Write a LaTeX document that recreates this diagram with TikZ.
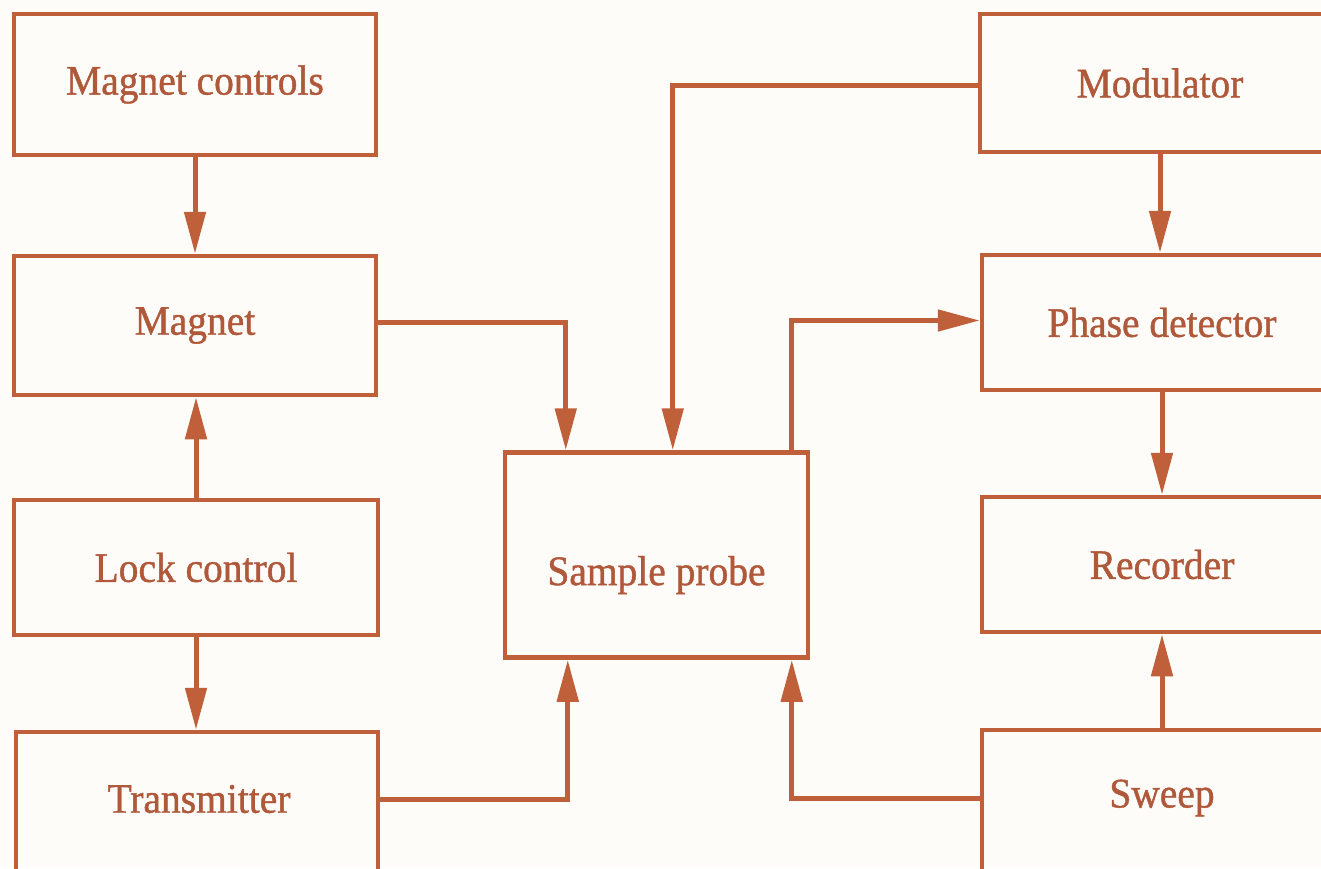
\documentclass[tikz,border=0pt]{standalone}
\usepackage{fontspec}
\setmainfont[FakeBold=1,FakeStretch=0.94]{Liberation Serif}
\usetikzlibrary{arrows.meta}
\definecolor{ink}{HTML}{C0603A}
\definecolor{txt}{HTML}{B0583A}
\definecolor{paper}{HTML}{FEFCF9}
\begin{document}
\begin{tikzpicture}[x=1pt,y=-1pt,
  box/.style={draw=ink,line width=4.5pt,minimum width=#1,inner sep=0pt,
    text=txt,font=\fontsize{42}{48}\selectfont},
  box/.default=362pt,
  lbl/.style={text=txt,font=\fontsize{42}{48}\selectfont,inner sep=0pt},
  arr/.style={draw=ink,line width=5pt,-{Triangle[length=42pt,width=21pt]}}]
\useasboundingbox[fill=paper] (0,0) rectangle (1321,868);
\begin{scope}
\clip (0,0) rectangle (1321,868);
% left column
\node[box,minimum height=141pt] (mc)   at (195,84.5)  {Magnet controls};
\node[box,minimum height=139pt] (mag)  at (195,325.5) {Magnet};
\node[box=364pt,minimum height=135pt] (lock) at (196,567.5) {Lock control};
\node[box,minimum height=160pt] (tx)   at (197,812)   {};
\node[lbl] (txlbl) at (199,799) {Transmitter};
% probe
\node[box=303pt,minimum height=205pt] (sp) at (656.5,555) {};
\node[lbl] (splbl) at ([yshift=-20pt]sp.center) {Sample probe};
% right column
\node[box=360pt,minimum height=138pt] (mod) at (1160,83)    {Modulator};
\node[box=360pt,minimum height=135pt] (pd)  at (1162,322.5) {Phase detector};
\node[box=360pt,minimum height=135pt] (rec) at (1162,564.5) {Recorder};
\node[box=360pt,minimum height=160pt] (sw)  at (1162,810)   {};
\node[lbl] (swlbl) at (1162,798) {Sweep};
% connectors
\draw[arr] (mc.south) -- (mc.south |- mag.north);
\draw[arr] (lock.north) -- (lock.north |- mag.south);
\draw[arr] (lock.south) -- (lock.south |- tx.north);
\draw[arr] ([yshift=3pt]mag.east) -| ([xshift=63pt]sp.north west);
\draw[arr] ([yshift=-2pt]mod.west) -| ([xshift=170pt]sp.north west);
\draw[arr] ([xshift=289pt]sp.north west) |- ([yshift=2pt]pd.west);
\draw[arr] (mod.south) -- (mod.south |- pd.north);
\draw[arr] (pd.south) -- (rec.north);
\draw[arr] (sw.north) -- (rec.south);
\draw[arr] (tx.east |- txlbl) -| ([xshift=65pt]sp.south west);
\draw[arr] (sw.west |- swlbl) -| ([xshift=289pt]sp.south west);
\end{scope}
\end{tikzpicture}
\end{document}
